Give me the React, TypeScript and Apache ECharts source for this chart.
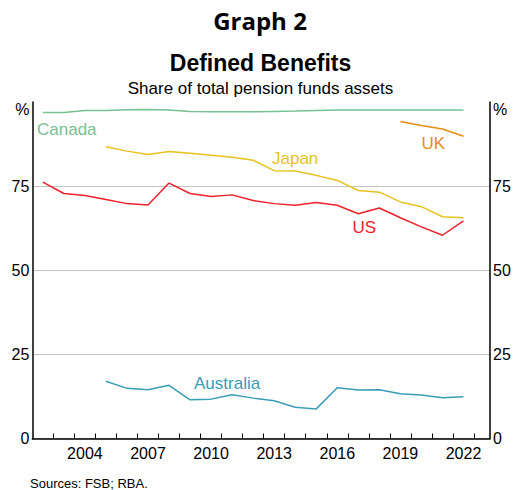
import React, { useEffect, useRef } from "react";
import * as echarts from "echarts";

const years = [2002, 2003, 2004, 2005, 2006, 2007, 2008, 2009, 2010, 2011, 2012, 2013, 2014, 2015, 2016, 2017, 2018, 2019, 2020, 2021, 2022];
const canada = [96.9, 96.9, 97.5, 97.5, 97.7, 97.8, 97.6, 97.2, 97.1, 97.1, 97.1, 97.2, 97.3, 97.5, 97.6, 97.6, 97.6, 97.6, 97.6, 97.6, 97.6];
const japan = [null, null, null, 86.7, 85.4, 84.4, 85.3, 84.8, 84.2, 83.6, 82.7, 79.6, 79.5, 78.2, 76.7, 73.7, 73.2, 70.3, 68.9, 65.9, 65.6];
const uk = [null, null, null, null, null, null, null, null, null, null, null, null, null, null, null, null, null, 94.2, 93.0, 92.0, 89.8];
const us = [76.2, 72.8, 72.2, 71.0, 69.8, 69.4, 75.9, 72.8, 71.9, 72.4, 70.7, 69.8, 69.3, 70.1, 69.3, 66.8, 68.5, 65.6, 62.9, 60.4, 64.7];
const australia = [null, null, null, 17.0, 14.9, 14.5, 15.8, 11.5, 11.7, 13.0, 12.0, 11.2, 9.3, 8.8, 15.1, 14.4, 14.5, 13.3, 12.9, 12.1, 12.4];

const xLabelYears = [2004, 2007, 2010, 2013, 2016, 2019, 2022];

const FONT = "'Liberation Sans', Arial, sans-serif";

function pairs(vals: (number | null)[]) {
  const out: [number, number][] = [];
  vals.forEach((v, i) => {
    if (v !== null) out.push([years[i], v]);
  });
  return out;
}

export default function App() {
  const ref = useRef<HTMLDivElement>(null);
  useEffect(() => {
    if (!ref.current) return;
    const chart = echarts.init(ref.current, undefined, { renderer: "svg" });
    const tickVals = years.map((y) => y + 0.5).filter((v) => v < 2023);
    const lineSeries = (name: string, vals: (number | null)[], color: string) => ({
      name,
      type: "line",
      data: pairs(vals),
      showSymbol: false,
      lineStyle: { color, width: 1.5 },
      itemStyle: { color },
      silent: true,
    });
    const labelText = (text: string, x: number, y: number, color: string) => ({
      type: "text",
      x,
      y,
      style: { text, fill: color, font: `17px ${FONT}`, textVerticalAlign: "middle" },
    });
    const yLabel = {
      color: "#000",
      fontSize: 16,
      fontFamily: FONT,
      margin: 3,
      formatter: (v: number) => (v === 100 ? "" : String(v)),
    };
    chart.setOption({
      animation: false,
      backgroundColor: "#ffffff",
      grid: { left: 32.3, right: 30, top: 102, bottom: 51.5, containLabel: false, outerBoundsMode: "none" },
      xAxis: {
        type: "value",
        min: 2001.5,
        max: 2023.26,
        axisLine: { show: true, lineStyle: { color: "#000", width: 1.5 } },
        axisTick: { show: true, inside: true, length: 5, customValues: tickVals, lineStyle: { color: "#000", width: 1 } },
        axisLabel: {
          customValues: xLabelYears,
          color: "#000",
          fontSize: 16,
          fontFamily: FONT,
          margin: 7,
          formatter: (v: number) => String(Math.round(v)),
        },
        splitLine: { show: false },
      },
      yAxis: [
        {
          type: "value",
          position: "left",
          min: 0,
          max: 100,
          interval: 25,
          axisLine: { show: true, lineStyle: { color: "#000", width: 1.5 } },
          axisTick: { show: false },
          axisLabel: yLabel,
          splitLine: { show: true, lineStyle: { color: ["#c4c4c4", "#c4c4c4", "#c4c4c4", "#c4c4c4", "rgba(0,0,0,0)"], width: 1 } },
        },
        {
          type: "value",
          position: "right",
          min: 0,
          max: 100,
          interval: 25,
          axisLine: { show: true, lineStyle: { color: "#000", width: 1.5 } },
          axisTick: { show: false },
          axisLabel: yLabel,
          splitLine: { show: false },
        },
      ],
      series: [
        lineSeries("Canada", canada, "#77c192"),
        lineSeries("Japan", japan, "#e9c21f"),
        lineSeries("UK", uk, "#e88c13"),
        lineSeries("US", us, "#f0212b"),
        lineSeries("Australia", australia, "#3a9db6"),
      ],
      graphic: [
        { type: "text", x: 260, y: 20, style: { text: "Graph 2", fill: "#000", font: `bold 24px 'Open Sans', sans-serif`, textAlign: "center", textVerticalAlign: "middle" } },
        { type: "text", x: 260.5, y: 63, style: { text: "Defined Benefits", fill: "#000", font: `bold 23px ${FONT}`, textAlign: "center", textVerticalAlign: "middle" } },
        { type: "text", x: 260.5, y: 88, style: { text: "Share of total pension funds assets", fill: "#000", font: `17px ${FONT}`, textAlign: "center", textVerticalAlign: "middle" } },
        { type: "text", x: 29.5, y: 109, style: { text: "%", fill: "#000", font: `16px ${FONT}`, textAlign: "right", textVerticalAlign: "middle" } },
        { type: "text", x: 493, y: 109, style: { text: "%", fill: "#000", font: `16px ${FONT}`, textAlign: "left", textVerticalAlign: "middle" } },
        labelText("Canada", 37, 129.5, "#77c192"),
        labelText("Japan", 272, 158, "#e9c21f"),
        labelText("UK", 421.5, 143, "#e88c13"),
        labelText("US", 352.5, 227, "#f0212b"),
        labelText("Australia", 194, 383, "#3a9db6"),
        { type: "text", x: 30, y: 483, style: { text: "Sources: FSB; RBA.", fill: "#000", font: `13px ${FONT}`, textVerticalAlign: "middle" } },
      ],
    });
    return () => chart.dispose();
  }, []);
  return <div ref={ref} style={{ position: "fixed", left: 0, top: 0, width: 520, height: 490 }} />;
}
